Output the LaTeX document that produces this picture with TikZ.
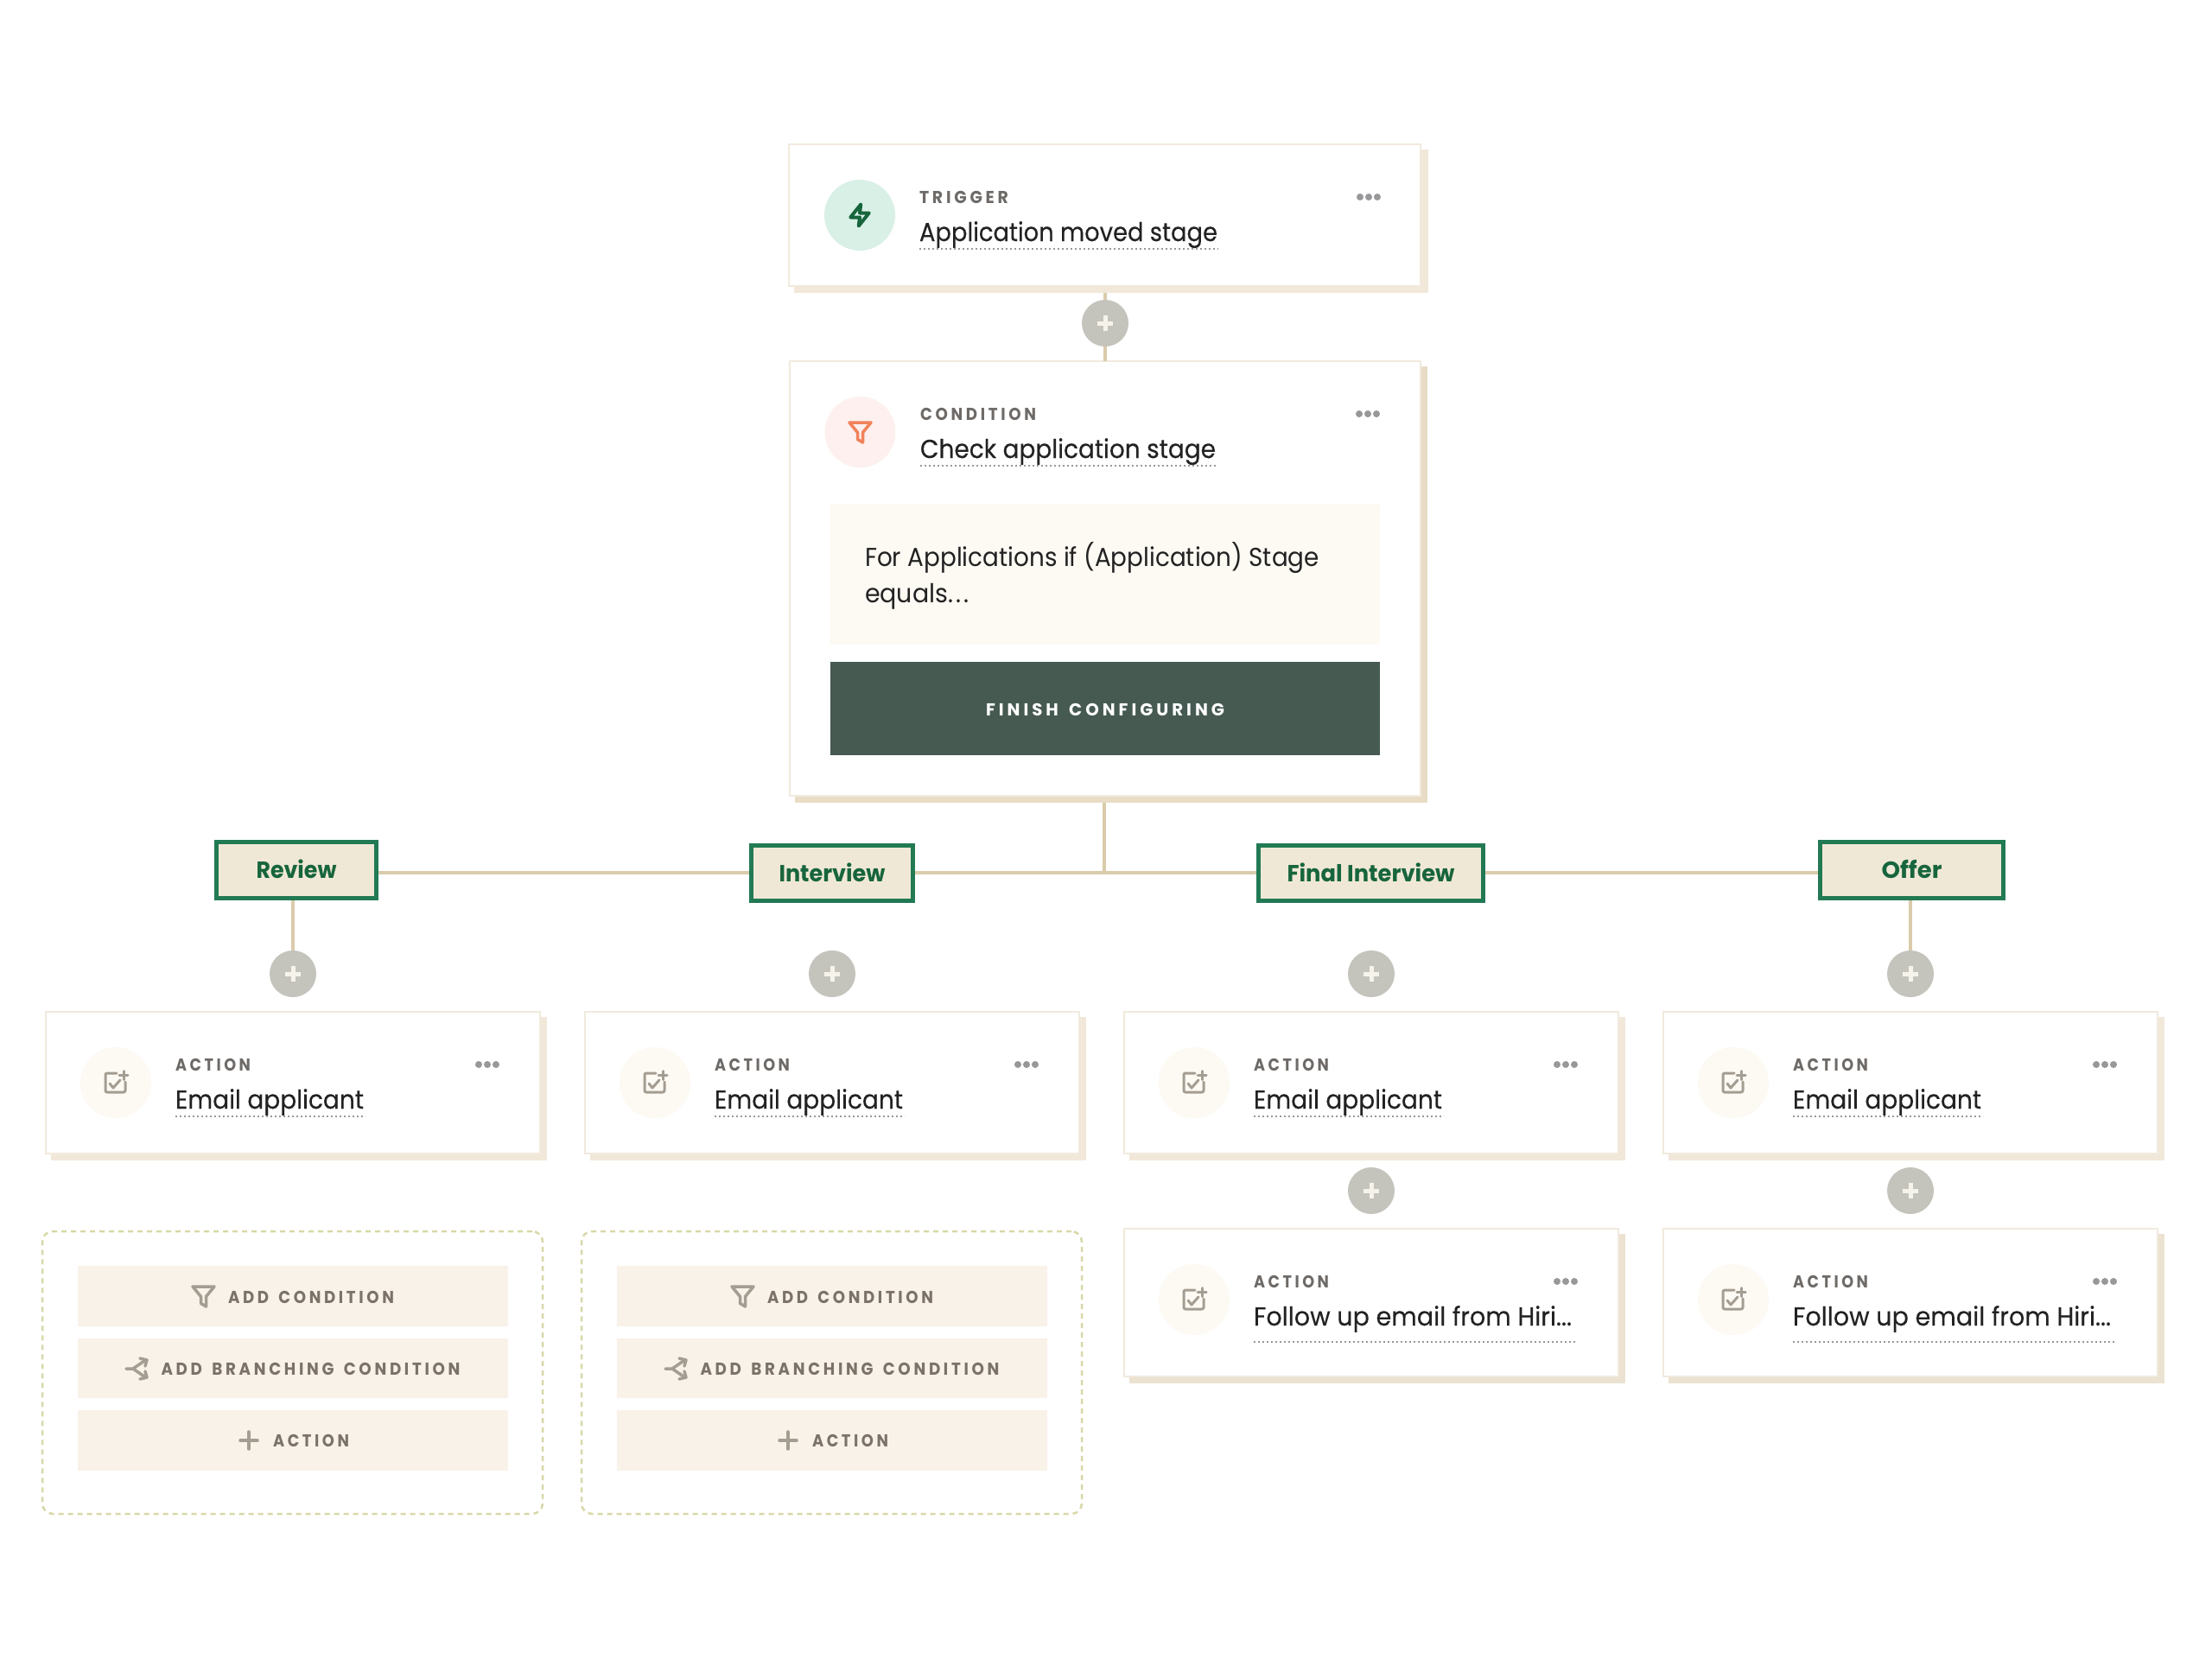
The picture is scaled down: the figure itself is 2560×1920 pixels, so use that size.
\documentclass[tikz,border=0pt]{standalone}
\usepackage{graphicx}
\usepackage{fontspec}
\setmainfont{Poppins}
\newfontfamily\titlefont[FakeBold=0.3]{Poppins}
\newfontfamily\parafont{Poppins}
\newfontfamily\tagfont{Poppins}
\newfontfamily\capsfont[LetterSpace=20,WordSpace=1.5]{Poppins}
\definecolor{ink}{HTML}{222222}
\definecolor{labelgrey}{HTML}{6E6A67}
\definecolor{dotgrey}{HTML}{99979A}
\definecolor{cardline}{HTML}{F1EADD}
\definecolor{shadowA}{HTML}{F1E8DA}
\definecolor{shadowB}{HTML}{E8DCC6}
\definecolor{shadowC}{HTML}{EBE2D1}
\definecolor{conn}{HTML}{DACBAB}
\definecolor{plusfill}{HTML}{C4C3BC}
\definecolor{plusmark}{HTML}{F6F3EA}
\definecolor{tagfill}{HTML}{F0E8D6}
\definecolor{tagline}{HTML}{217A54}
\definecolor{tagtext}{HTML}{17653C}
\definecolor{panelfill}{HTML}{FDF9F3}
\definecolor{btnfill}{HTML}{465A52}
\definecolor{addfill}{HTML}{F9F2E8}
\definecolor{addtext}{HTML}{7B7268}
\definecolor{iconfill}{HTML}{A49D92}
\definecolor{dashcol}{HTML}{D8D8A8}
\definecolor{mint}{HTML}{D9F0E6}
\definecolor{rose}{HTML}{FDF0EE}
\definecolor{orange}{HTML}{F0825A}
\newlength\fitlen
\newcommand{\fitw}[2]{\settowidth{\fitlen}{#2}\pgfmathsetmacro{\fitr}{#1/\fitlen}\scalebox{\fitr}[1]{#2}}
\tikzset{
  boxbase/.style={rectangle,inner sep=0pt,outer sep=0pt,anchor=north west},
  cardface/.style={boxbase,fill=white,draw=cardline,line width=2pt},
  shadowface/.style={boxbase,fill=#1},
  iconcircle/.style={circle,inner sep=0pt,outer sep=0pt,minimum size=82pt,fill=#1},
  plusdisc/.style={circle,inner sep=0pt,outer sep=0pt,minimum size=54pt,fill=plusfill},
  plusmarkline/.style={draw=plusmark,line width=5pt},
  connline/.style={draw=conn,line width=3.5pt},
  smalllabel/.style={anchor=base west,inner sep=0pt,outer sep=0pt,text=labelgrey,font=\capsfont\fontsize{20}{24}\selectfont\bfseries},
  titletext/.style={anchor=base west,inner sep=0pt,outer sep=0pt,text=ink,font=\titlefont\fontsize{30}{36}\selectfont},
  paratext/.style={anchor=base west,inner sep=0pt,outer sep=0pt,text=ink,font=\parafont\fontsize{30}{36}\selectfont},
  uline/.style={draw=dotgrey,line width=2pt,dash pattern=on 2pt off 3pt},
  dotmark/.style={fill=dotgrey,draw=none},
  tagbox/.style={rectangle,fill=tagfill,draw=tagline,line width=5pt,inner sep=0pt,outer sep=2.5pt,text=tagtext,align=center,text height=19pt,text depth=0pt,font=\tagfont\fontsize{27}{32}\selectfont\bfseries},
  addbtn/.style={boxbase,fill=addfill,minimum width=498pt,minimum height=70pt},
  addlabel/.style={anchor=base west,inner sep=0pt,outer sep=0pt,text=addtext,font=\capsfont\fontsize{20}{24}\selectfont\bfseries},
  iconline/.style={draw=iconfill,line width=3.5pt,line join=round,line cap=round},
  dashbox/.style={boxbase,draw=dashcol,line width=2.5pt,dash pattern=on 6pt off 5pt,rounded corners=12pt,minimum width=579pt,minimum height=327pt},
}
\newcommand{\menudots}[2]{%
  \fill[dotmark] ({#1-10},#2) circle (4pt) (#1,#2) circle (4pt) ({#1+10},#2) circle (4pt);}
\newcommand{\plusbtn}[3]{%
  \node[plusdisc] (#1) at (#2,#3) {};
  \draw[plusmarkline] ({#2-9},#3) -- ({#2+9},#3) (#2,{#3-9}) -- (#2,{#3+9});}
\newcommand{\funnelicon}[3]{%
  \draw[iconline,draw=#3] ({#1-12.5},{#2-11.5}) -- ({#1+12.5},{#2-11.5}) -- ({#1+3},{#2}) -- ({#1+3},{#2+11.5}) -- ({#1-3},{#2+8}) -- ({#1-3},{#2}) -- cycle;}
\newcommand{\taskicon}[2]{%
  \draw[iconline,line width=3pt,rounded corners=2pt] ({#1+1},{#2-11}) -- ({#1-12},{#2-11}) -- ({#1-12},{#2+11}) -- ({#1+11},{#2+11}) -- ({#1+11},{#2-1});
  \draw[iconline,line width=3pt] ({#1-7},{#2+1}) -- ({#1-3},{#2+6}) -- ({#1+5},{#2-3});
  \draw[iconline,line width=3pt] ({#1+4},{#2-8.5}) -- ({#1+14},{#2-8.5}) ({#1+9},{#2-13.5}) -- ({#1+9},{#2-3.5});}
% name, x, y, h, shadow colour, title, title width, underline offset, underline width
\newcommand{\actioncard}[9]{%
  \node[shadowface=#5,minimum width=574pt,minimum height={#4+2pt}] (#1s) at ({#2+7},{#3+6}) {};
  \node[cardface,minimum width=572pt,minimum height=#4pt] (#1) at ({#2+1},{#3}) {};
  \node[iconcircle=panelfill] (#1i) at ({#2+82},{#3+82}) {};
  \taskicon{#2+82}{#3+82}
  \node[smalllabel] (#1l) at ({#2+151},{#3+68}) {\fitw{87}{ACTION}};
  \node[titletext] (#1t) at ({#2+151},{#3+112}) {\fitw{#7}{#6}};
  \draw[uline] ({#2+151},{#3+#8}) -- ({#2+151+#9},{#3+#8});
  \menudots{#2+512}{#3+61}}
\newcommand{\addpanel}[2]{%
  \node[dashbox] (#1d) at ({#2+49},1425) {};
  \node[addbtn] (#1a) at ({#2+90},1465) {};
  \node[addbtn,minimum height=69pt] (#1b) at ({#2+90},1549) {};
  \node[addbtn] (#1c) at ({#2+90},1632) {};
  \funnelicon{#2+235.5}{1500.5}{iconfill}
  \node[addlabel] (#1at) at ({#2+264},1508) {\fitw{192}{ADD CONDITION}};
  \draw[iconline] ({#2+146},1584) -- ({#2+154},1584) -- ({#2+167},1575) ({#2+154},1584) -- ({#2+167},1593);
  \draw[iconline] ({#2+162},1572) -- ({#2+170},1574) -- ({#2+168},1581) ({#2+162},1596) -- ({#2+170},1594) -- ({#2+168},1587);
  \node[addlabel] (#1bt) at ({#2+186.5},1591) {\fitw{346}{ADD BRANCHING CONDITION}};
  \draw[iconline] ({#2+278},1667) -- ({#2+298},1667) ({#2+288},1657) -- ({#2+288},1677);
  \node[addlabel] (#1ct) at ({#2+316},1674) {\fitw{88}{ACTION}};}
\begin{document}
\begin{tikzpicture}[x=1pt,y=-1pt]
\useasboundingbox[fill=white] (0,0) rectangle (2560,1920);

% Trigger card
\node[shadowface=shadowA,minimum width=734pt,minimum height=166pt] (trigs) at (919,173) {};
\node[cardface,minimum width=731pt,minimum height=164pt] (trigger) at (913,167) {};
\node[iconcircle=mint] (trigi) at (995,249) {};
\draw[line width=4pt,draw=tagtext,line join=round] (996.25,236.5) -- (984.25,251.5) -- (995,251.5) -- (993.75,261.5) -- (1005.75,246.5) -- (995,246.5) -- cycle;
\node[smalllabel] (trigl) at (1064,235) {\fitw{103}{TRIGGER}};
\node[titletext] (trigt) at (1064,279) {\fitw{345}{Application moved stage}};
\draw[uline] (1064,288) -- (1410,288);
\menudots{1584}{228}

% Condition card
\node[shadowface=shadowB,minimum width=732pt,minimum height=505pt] (conds) at (920,424) {};
\node[cardface,minimum width=730pt,minimum height=503pt] (cond) at (914,418) {};
\node[iconcircle=rose] (condi) at (995.5,500) {};
\funnelicon{995.5}{500.5}{orange}
\node[smalllabel] (condl) at (1065,486) {\fitw{134}{CONDITION}};
\node[titletext] (condt) at (1065,530) {\fitw{342}{Check application stage}};
\draw[uline] (1065,539) -- (1409,539);
\menudots{1583}{479}
\node[boxbase,fill=panelfill,minimum width=636pt,minimum height=163pt] (panel) at (961,583) {};
\node[paratext] (para1) at (1001,655) {\fitw{526}{For Applications if (Application) Stage}};
\node[paratext] (para2) at (1001,697) {\fitw{120}{equals.\kern3pt.\kern3pt.}};
\node[boxbase,fill=btnfill,minimum width=636pt,minimum height=108pt] (finish) at (961,766) {};
\node[smalllabel,text=white] (finisht) at (1141,828) {\fitw{276}{FINISH CONFIGURING}};

% Branch tags
\node[tagbox,minimum width=185pt,minimum height=65pt] (review) at (343,1007) {\fitw{93}{Review}};
\node[tagbox,minimum width=187pt,minimum height=64pt] (interview) at (963,1010.5) {\fitw{123}{Interview}};
\node[tagbox,minimum width=260pt,minimum height=64pt] (finalint) at (1586.5,1010.5) {\fitw{194}{Final Interview}};
\node[tagbox,minimum width=212pt,minimum height=65pt] (offer) at (2212.5,1007) {\fitw{70}{Offer}};

% Plus buttons
\plusbtn{pTop}{1279}{374}
\plusbtn{pA}{339}{1127}
\plusbtn{pB}{963}{1127}
\plusbtn{pC}{1587}{1127}
\plusbtn{pD}{2211}{1127}
\plusbtn{pE}{1587}{1378}
\plusbtn{pF}{2211}{1378}

% Action cards
\actioncard{a1}{52}{1171}{164}{shadowA}{Email applicant}{218}{121}{220}
\actioncard{a2}{676}{1171}{164}{shadowA}{Email applicant}{218}{121}{220}
\actioncard{a3}{1300}{1171}{164}{shadowA}{Email applicant}{218}{121}{220}
\actioncard{a4}{1924}{1171}{164}{shadowA}{Email applicant}{218}{121}{220}
\actioncard{b3}{1300}{1422}{171}{shadowC}{Follow up email from Hiri...}{368}{131}{373}
\actioncard{b4}{1924}{1422}{171}{shadowC}{Follow up email from Hiri...}{368}{131}{373}

% Add panels
\addpanel{x}{0}
\addpanel{y}{624}

% Connectors
\coordinate (jct) at (1278,1010);
\draw[connline] (pTop.north) -- (pTop.north |- trigs.south);
\draw[connline] (pTop.south) -- (pTop.south |- cond.north);
\draw[connline] (jct |- conds.south) -- (jct);
\draw[connline] (review.east |- jct) -- (interview.west |- jct);
\draw[connline] (interview.east |- jct) -- (finalint.west |- jct);
\draw[connline] (finalint.east |- jct) -- (offer.west |- jct);
\draw[connline] (pA.north) -- (pA.north |- review.south);
\draw[connline] (pD.north) -- (pD.north |- offer.south);
\end{tikzpicture}
\end{document}
